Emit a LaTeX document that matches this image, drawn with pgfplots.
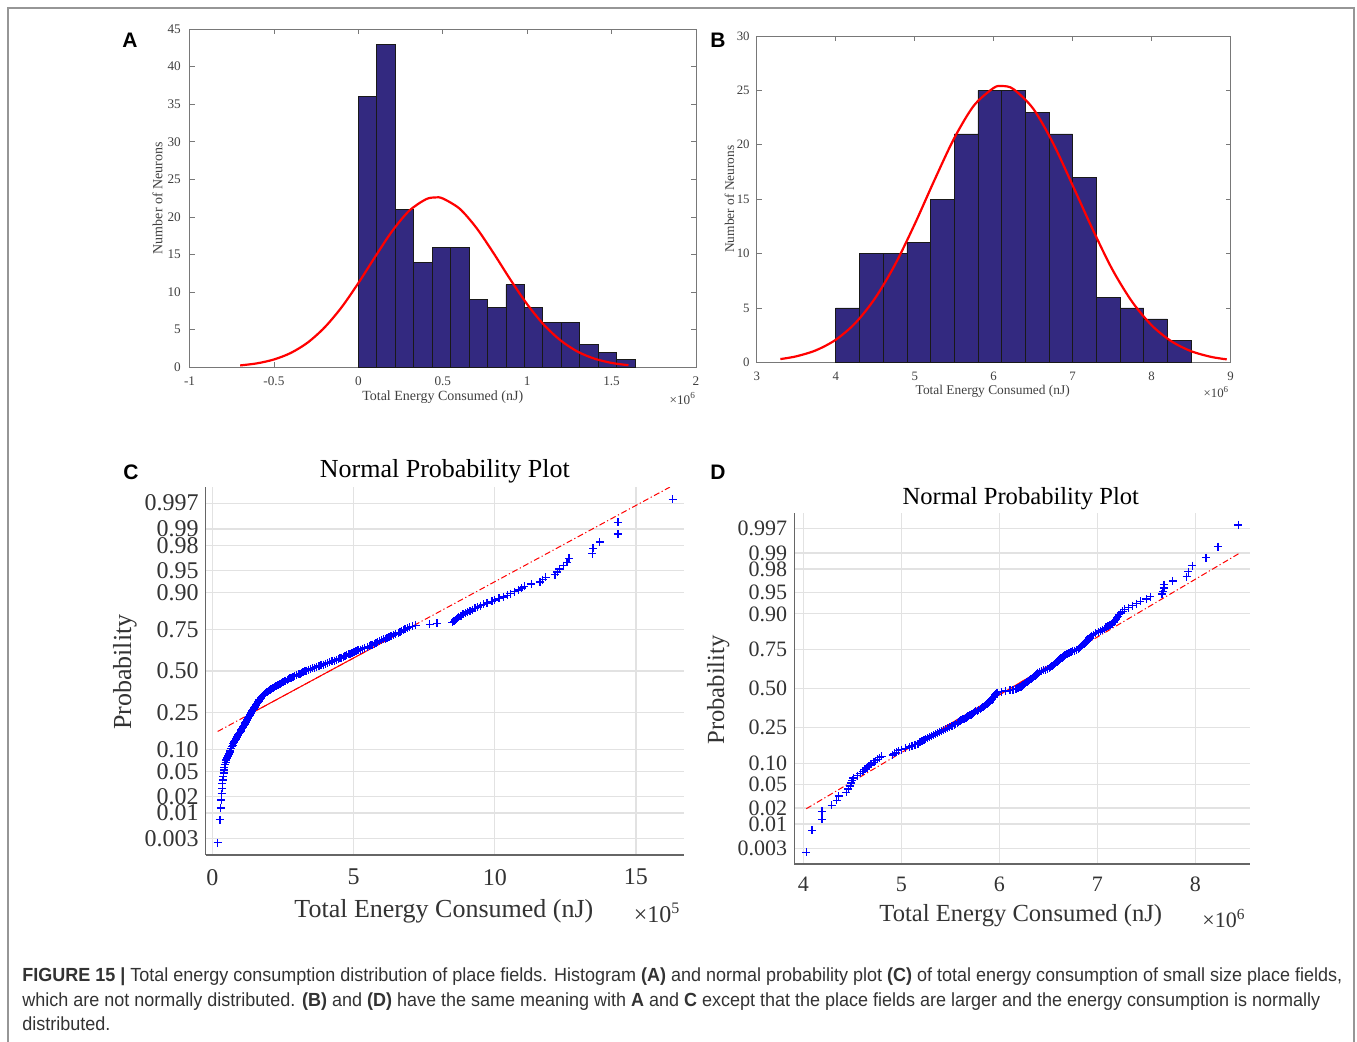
\documentclass[border=0pt]{standalone}
\usepackage{pgfplots}
\pgfplotsset{compat=1.18}
\usepackage{fontspec}
\setmainfont{Liberation Serif}
\newfontfamily\panelfont{Liberation Sans}
\newfontfamily\capfont[FakeStretch=0.947]{Liberation Sans}

\definecolor{histfill}{RGB}{51,41,128}
\definecolor{axgray}{RGB}{120,120,120}
\definecolor{gridgray}{RGB}{226,226,226}
\definecolor{framegray}{RGB}{150,150,150}

% probit: inverse standard normal CDF (Abramowitz & Stegun 26.2.23),
% used as the y scale of the normal probability plots
\pgfmathdeclarefunction{probit}{1}{%
  \begingroup
    \pgfmathparse{min(#1,1-#1)}\let\probQ\pgfmathresult
    \pgfmathparse{sqrt(-2*ln(\probQ))}\let\probT\pgfmathresult
    \pgfmathparse{\probT-(2.515517+0.802853*\probT+0.010328*\probT*\probT)/(1+1.432788*\probT+0.189269*\probT*\probT+0.001308*\probT*\probT*\probT)}\let\probZ\pgfmathresult
    \pgfmathparse{(#1<0.5)*(0-\probZ)+(#1>=0.5)*\probZ}%
    \pgfmathsmuggle\pgfmathresult
  \endgroup}

\pgfplotsset{
  histaxis/.style={
    scale only axis, anchor=south west, clip mode=individual,
    /pgf/number format/assume math mode=true,
    tick align=inside, major tick length=2.5pt,
    axis line style={axgray, line width=0.5pt},
    tick style={axgray, line width=0.4pt},
    tick label style={text=black!75},
    label style={text=black!75},
    xlabel={Total Energy Consumed (nJ)},
    ylabel={Number of Neurons},
  },
  probaxis/.style={
    scale only axis, anchor=south west, clip mode=individual,
    /pgf/number format/assume math mode=true,
    axis x line*=bottom, axis y line*=left,
    axis line style={black!60, line width=0.6pt},
    major tick length=0pt,
    grid=major, major grid style={gridgray, line width=0.6pt},
    ymin=0.0013, ymax=0.9987,
    y coord trafo/.code={\pgfmathparse{probit(##1)}},
    ytick={0.003,0.01,0.02,0.05,0.10,0.25,0.50,0.75,0.90,0.95,0.98,0.99,0.997},
    yticklabels={0.003,0.01,0.02,0.05,0.10,0.25,0.50,0.75,0.90,0.95,0.98,0.99,0.997},
    tick label style={text=black!80},
    label style={text=black!80},
    title={Normal Probability Plot},
    xlabel={Total Energy Consumed (nJ)},
    ylabel={Probability},
  },
  refdash/.style={red, line width=0.5pt, dash pattern=on 3pt off 1.3pt on 0.6pt off 1.3pt},
  refsolid/.style={red, line width=0.5pt},
  probmarks/.style={only marks, mark=+, mark size=2pt, blue, mark options={line width=0.65pt}},
}

\begin{document}
\begin{tikzpicture}
\useasboundingbox (0,0) rectangle (678.5pt,-520.5pt);
\fill[white] (0,0) rectangle (678.5pt,-520.5pt);
\draw[framegray, line width=0.6pt] (4pt,-521pt) -- (4pt,-4pt) -- (677pt,-4pt) -- (677pt,-521pt);

% ---------------- A: histogram, small place fields ----------------
\begin{axis}[histaxis,
  at={(94.75pt,-183.65pt)}, width=253.25pt, height=169.15pt,
  xmin=-1, xmax=2, ymin=0, ymax=45,
  xtick={-1,-0.5,0,0.5,1,1.5,2}, ytick={0,5,...,45},
  tick label style={font=\fontsize{6.6}{7}\selectfont},
  label style={font=\fontsize{7}{8}\selectfont},
  xticklabel style={yshift=-1.2pt}, yticklabel style={xshift=-0.8pt},
  xlabel style={at={(axis description cs:0.5,-0.0888)}, anchor=center},
  ylabel style={at={(axis description cs:-0.063,0.5)}, anchor=center},
]
\addplot[ybar interval, fill=histfill, draw=black!90, line width=0.3pt] coordinates {
  (0,36) (0.1092,43) (0.2184,21) (0.3276,14) (0.4368,16) (0.5460,16) (0.6552,9) (0.7644,8)
  (0.8736,11) (0.9828,8) (1.0920,6) (1.2012,6) (1.3104,3) (1.4196,2) (1.5288,1) (1.6380,0)};
\addplot[red, line width=1.1pt, smooth] coordinates {
  (-0.7,0.251) (-0.6,0.529) (-0.5,1.041) (-0.4,1.913) (-0.3,3.29) (-0.2,5.30) (-0.1,7.96)
  (0,11.20) (0.1,14.72) (0.2,18.10) (0.3,20.80) (0.4,22.35) (0.457,22.6) (0.5,22.46)
  (0.6,21.10) (0.7,18.53) (0.8,15.22) (0.9,11.69) (1.0,8.39) (1.1,5.63) (1.2,3.54)
  (1.3,2.07) (1.4,1.14) (1.5,0.584) (1.6,0.280)};
\node[font=\fontsize{6.6}{7}\selectfont, text=black!75, anchor=center] at (axis description cs:0.974,-0.0917) {×10\textsuperscript{6}};
\end{axis}

% ---------------- B: histogram, large place fields ----------------
\begin{axis}[histaxis,
  at={(378.35pt,-181.15pt)}, width=237pt, height=163.15pt,
  xmin=3, xmax=9, ymin=0, ymax=30,
  xtick={3,4,...,9}, ytick={0,5,...,30},
  tick label style={font=\fontsize{6.4}{7}\selectfont},
  label style={font=\fontsize{6.7}{7.5}\selectfont},
  xticklabel style={yshift=-1.4pt},
  xlabel style={at={(axis description cs:0.498,-0.0889)}, anchor=center},
  ylabel style={at={(axis description cs:-0.0575,0.5)}, anchor=center},
]
\addplot[ybar interval, fill=histfill, draw=black!90, line width=0.3pt] coordinates {
  (4.0,5) (4.3,10) (4.6,10) (4.9,11) (5.2,15) (5.5,21) (5.8,25) (6.1,25)
  (6.4,23) (6.7,21) (7.0,17) (7.3,6) (7.6,5) (7.9,4) (8.2,2) (8.5,0)};
\addplot[red, line width=1.1pt, smooth] coordinates {
  (3.3,0.298) (3.5,0.548) (3.75,1.105) (4.0,2.07) (4.25,3.62) (4.5,5.91) (4.75,8.97)
  (5.0,12.70) (5.25,16.75) (5.5,20.60) (5.75,23.61) (6.0,25.23) (6.11,25.4) (6.25,25.12)
  (6.5,23.32) (6.75,20.17) (7.0,16.26) (7.25,12.27) (7.5,8.56) (7.75,5.59) (8.0,3.40)
  (8.25,1.93) (8.5,1.02) (8.75,0.502) (8.95,0.271)};
\node[font=\fontsize{6.4}{7}\selectfont, text=black!75, anchor=center] at (axis description cs:0.970,-0.092) {×10\textsuperscript{6}};
\end{axis}

% ---------------- C: normal probability plot, small place fields ----------------
\begin{axis}[probaxis,
  at={(102.85pt,-427.5pt)}, width=239.15pt, height=184pt,
  xmin=-0.234, xmax=16.7, xtick={0,5,10,15},
  tick label style={font=\fontsize{12}{13}\selectfont},
  label style={font=\fontsize{13}{14}\selectfont},
  title style={font=\fontsize{13}{14}\selectfont, at={(axis description cs:0.5,1.052)}, anchor=center, yshift=-7.5pt},
  xticklabel style={yshift=-3.5pt},
  xlabel style={at={(axis description cs:0.498,-0.152)}, anchor=center},
  ylabel style={at={(axis description cs:-0.169,0.497)}, anchor=center},
]
\addplot[refdash] coordinates {(0.19,0.1613) (16.2,0.99869)};
\addplot[refsolid] coordinates {(1.45,0.25) (6.85,0.75)};
\addplot[probmarks] coordinates {
(0.19,0.0025) (0.27,0.0075) (0.30,0.0125) (0.32,0.0175) (0.33,0.0225)
(0.35,0.0275) (0.36,0.0325) (0.37,0.0375) (0.39,0.0425) (0.40,0.0475)
(0.42,0.0525) (0.43,0.0575) (0.45,0.0625) (0.47,0.0675) (0.49,0.0725)
(0.52,0.0775) (0.55,0.0825) (0.58,0.0875) (0.61,0.0925) (0.64,0.0975)
(0.66,0.1025) (0.69,0.1075) (0.72,0.1125) (0.75,0.1175) (0.78,0.1225)
(0.80,0.1275) (0.83,0.1325) (0.86,0.1375) (0.89,0.1425) (0.92,0.1475)
(0.95,0.1525) (0.98,0.1575) (1.00,0.1625) (1.03,0.1675) (1.06,0.1725)
(1.08,0.1775) (1.10,0.1825) (1.12,0.1875) (1.14,0.1925) (1.17,0.1975)
(1.19,0.2025) (1.22,0.2075) (1.24,0.2125) (1.26,0.2175) (1.28,0.2225)
(1.30,0.2275) (1.32,0.2325) (1.34,0.2375) (1.36,0.2425) (1.38,0.2475)
(1.40,0.2525) (1.42,0.2575) (1.44,0.2625) (1.46,0.2675) (1.48,0.2725)
(1.50,0.2775) (1.52,0.2825) (1.54,0.2875) (1.56,0.2925) (1.58,0.2975)
(1.60,0.3025) (1.62,0.3075) (1.64,0.3125) (1.66,0.3175) (1.68,0.3225)
(1.71,0.3275) (1.74,0.3325) (1.77,0.3375) (1.80,0.3425) (1.83,0.3475)
(1.86,0.3525) (1.89,0.3575) (1.92,0.3625) (1.96,0.3675) (2.00,0.3725)
(2.04,0.3775) (2.08,0.3825) (2.12,0.3875) (2.17,0.3925) (2.20,0.3975)
(2.25,0.4025) (2.30,0.4075) (2.35,0.4125) (2.40,0.4175) (2.45,0.4225)
(2.50,0.4275) (2.55,0.4325) (2.60,0.4375) (2.65,0.4425) (2.70,0.4475)
(2.75,0.4525) (2.80,0.4575) (2.86,0.4625) (2.92,0.4675) (2.98,0.4725)
(3.04,0.4775) (3.10,0.4825) (3.16,0.4875) (3.21,0.4925) (3.26,0.4975)
(3.32,0.5025) (3.40,0.5075) (3.48,0.5125) (3.55,0.5175) (3.62,0.5225)
(3.70,0.5275) (3.78,0.5325) (3.85,0.5375) (3.93,0.5425) (4.00,0.5475)
(4.08,0.5525) (4.16,0.5575) (4.24,0.5625) (4.32,0.5675) (4.40,0.5725)
(4.46,0.5775) (4.52,0.5825) (4.58,0.5875) (4.64,0.5925) (4.70,0.5975)
(4.76,0.6025) (4.82,0.6075) (4.88,0.6125) (4.95,0.6175) (5.02,0.6225)
(5.09,0.6275) (5.16,0.6325) (5.24,0.6375) (5.32,0.6425) (5.40,0.6475)
(5.50,0.6525) (5.56,0.6575) (5.62,0.6625) (5.68,0.6675) (5.74,0.6725)
(5.80,0.6775) (5.86,0.6825) (5.92,0.6875) (5.98,0.6925) (6.05,0.6975)
(6.12,0.7025) (6.19,0.7075) (6.26,0.7125) (6.33,0.7175) (6.41,0.7225)
(6.49,0.7275) (6.58,0.7325) (6.64,0.7375) (6.70,0.7425) (6.76,0.7475)
(6.82,0.7525) (6.90,0.7575) (6.98,0.7625) (7.08,0.7675) (7.20,0.7725)
(7.70,0.7775) (7.96,0.7825) (8.50,0.7875) (8.56,0.7925) (8.60,0.7975)
(8.64,0.8025) (8.68,0.8075) (8.72,0.8125) (8.80,0.8175) (8.88,0.8225)
(8.96,0.8275) (9.04,0.8325) (9.12,0.8375) (9.20,0.8425) (9.30,0.8475)
(9.40,0.8525) (9.50,0.8575) (9.60,0.8625) (9.72,0.8675) (9.90,0.8725)
(10.00,0.8775) (10.15,0.8825) (10.30,0.8875) (10.45,0.8925) (10.55,0.8975)
(10.70,0.9025) (10.85,0.9075) (10.95,0.9125) (11.05,0.9175) (11.30,0.9225)
(11.60,0.9275) (11.70,0.9325) (11.80,0.9375) (12.13,0.9425) (12.22,0.9475)
(12.29,0.9525) (12.43,0.9575) (12.56,0.9625) (12.63,0.9675) (13.46,0.9725)
(13.48,0.9775) (13.72,0.9825) (14.36,0.9875) (14.36,0.9925) (16.30,0.9975)};
\node[font=\fontsize{12}{13}\selectfont, text=black!80, anchor=center] at (axis description cs:0.944,-0.158) {×10\textsuperscript{5}};
\end{axis}

% ---------------- D: normal probability plot, large place fields ----------------
\begin{axis}[probaxis,
  at={(397.15pt,-432pt)}, width=227.85pt, height=175.5pt,
  xmin=3.908, xmax=8.558, xtick={4,5,6,7,8},
  tick label style={font=\fontsize{11}{12}\selectfont},
  label style={font=\fontsize{12.3}{13}\selectfont},
  title style={font=\fontsize{12.3}{13}\selectfont, at={(axis description cs:0.497,1.048)}, anchor=center, yshift=-7pt},
  xticklabel style={yshift=-3.1pt},
  xlabel style={at={(axis description cs:0.497,-0.147)}, anchor=center},
  ylabel style={at={(axis description cs:-0.167,0.496)}, anchor=center},
]
\addplot[refdash] coordinates {(4.03,0.0196) (8.44,0.98956)};
\addplot[refsolid] coordinates {(5.43,0.25) (6.79,0.75)};
\addplot[probmarks] coordinates {
(4.03,0.0025) (4.09,0.0075) (4.19,0.0125) (4.19,0.0175) (4.29,0.0225)
(4.34,0.0275) (4.36,0.0325) (4.44,0.0375) (4.46,0.0425) (4.48,0.0475)
(4.49,0.0525) (4.50,0.0575) (4.51,0.0625) (4.55,0.0675) (4.58,0.0725)
(4.61,0.0775) (4.63,0.0825) (4.65,0.0875) (4.67,0.0925) (4.69,0.0975)
(4.72,0.1025) (4.74,0.1075) (4.76,0.1125) (4.78,0.1175) (4.80,0.1225)
(4.91,0.1275) (4.93,0.1325) (4.95,0.1375) (4.97,0.1425) (5.00,0.1475)
(5.04,0.1525) (5.08,0.1575) (5.11,0.1625) (5.14,0.1675) (5.17,0.1725)
(5.19,0.1775) (5.21,0.1825) (5.23,0.1875) (5.25,0.1925) (5.27,0.1975)
(5.29,0.2025) (5.31,0.2075) (5.33,0.2125) (5.35,0.2175) (5.37,0.2225)
(5.39,0.2275) (5.41,0.2325) (5.43,0.2375) (5.45,0.2425) (5.47,0.2475)
(5.49,0.2525) (5.51,0.2575) (5.52,0.2625) (5.54,0.2675) (5.55,0.2725)
(5.57,0.2775) (5.58,0.2825) (5.60,0.2875) (5.61,0.2925) (5.63,0.2975)
(5.64,0.3025) (5.66,0.3075) (5.67,0.3125) (5.68,0.3175) (5.70,0.3225)
(5.71,0.3275) (5.72,0.3325) (5.74,0.3375) (5.75,0.3425) (5.76,0.3475)
(5.78,0.3525) (5.79,0.3575) (5.81,0.3625) (5.82,0.3675) (5.83,0.3725)
(5.84,0.3775) (5.85,0.3825) (5.86,0.3875) (5.87,0.3925) (5.88,0.3975)
(5.89,0.4025) (5.90,0.4075) (5.905,0.4125) (5.91,0.4175) (5.92,0.4225)
(5.925,0.4275) (5.93,0.4325) (5.94,0.4375) (5.945,0.4425) (5.95,0.4475)
(5.955,0.4525) (5.96,0.4575) (5.965,0.4625) (5.97,0.4675) (5.98,0.4725)
(6.02,0.4775) (6.06,0.4825) (6.11,0.4875) (6.14,0.4925) (6.17,0.4975)
(6.19,0.5025) (6.21,0.5075) (6.22,0.5125) (6.23,0.5175) (6.24,0.5225)
(6.25,0.5275) (6.26,0.5325) (6.27,0.5375) (6.28,0.5425) (6.29,0.5475)
(6.30,0.5525) (6.31,0.5575) (6.32,0.5625) (6.33,0.5675) (6.34,0.5725)
(6.35,0.5775) (6.36,0.5825) (6.37,0.5875) (6.37,0.5925) (6.38,0.5975)
(6.39,0.6025) (6.39,0.6075) (6.41,0.6125) (6.43,0.6175) (6.45,0.6225)
(6.47,0.6275) (6.49,0.6325) (6.51,0.6375) (6.52,0.6425) (6.53,0.6475)
(6.54,0.6525) (6.55,0.6575) (6.56,0.6625) (6.57,0.6675) (6.58,0.6725)
(6.59,0.6775) (6.60,0.6825) (6.61,0.6875) (6.62,0.6925) (6.63,0.6975)
(6.64,0.7025) (6.65,0.7075) (6.66,0.7125) (6.67,0.7175) (6.69,0.7225)
(6.71,0.7275) (6.73,0.7325) (6.75,0.7375) (6.77,0.7425) (6.79,0.7475)
(6.81,0.7525) (6.82,0.7575) (6.83,0.7625) (6.84,0.7675) (6.85,0.7725)
(6.86,0.7775) (6.87,0.7825) (6.88,0.7875) (6.89,0.7925) (6.90,0.7975)
(6.91,0.8025) (6.92,0.8075) (6.93,0.8125) (6.94,0.8175) (6.96,0.8225)
(6.98,0.8275) (7.01,0.8325) (7.03,0.8375) (7.05,0.8425) (7.07,0.8475)
(7.09,0.8525) (7.11,0.8575) (7.13,0.8625) (7.15,0.8675) (7.17,0.8725)
(7.18,0.8775) (7.19,0.8825) (7.20,0.8875) (7.21,0.8925) (7.22,0.8975)
(7.24,0.9025) (7.26,0.9075) (7.28,0.9125) (7.32,0.9175) (7.36,0.9225)
(7.40,0.9275) (7.44,0.9325) (7.50,0.9375) (7.54,0.9425) (7.66,0.9475)
(7.67,0.9525) (7.68,0.9575) (7.68,0.9625) (7.77,0.9675) (7.91,0.9725)
(7.93,0.9775) (7.97,0.9825) (8.11,0.9875) (8.23,0.9925) (8.44,0.9975)};
\node[font=\fontsize{11}{12}\selectfont, text=black!80, anchor=center] at (axis description cs:0.943,-0.154) {×10\textsuperscript{6}};
\end{axis}

% panel letters
\begin{scope}[every node/.style={font=\panelfont\bfseries\fontsize{10.5}{12}\selectfont, inner sep=0pt, anchor=center}]
\node at (65pt,-20pt) {A};
\node at (359pt,-20pt) {B};
\node at (65.5pt,-236pt) {C};
\node at (359pt,-236pt) {D};
\end{scope}

% caption
\begin{scope}[every node/.style={font=\capfont\fontsize{9.5}{11}\selectfont, text=black!80, inner sep=0pt, anchor=base west}]
\node at (11pt,-490.5pt) {\textbf{FIGURE 15 |} Total energy consumption distribution of place fields. Histogram \textbf{(A)} and normal probability plot \textbf{(C)} of total energy consumption of small size place fields,};
\node at (11pt,-503pt) {which are not normally distributed. \textbf{(B)} and \textbf{(D)} have the same meaning with \textbf{A} and \textbf{C} except that the place fields are larger and the energy consumption is normally};
\node at (11pt,-515pt) {distributed.};
\end{scope}
\end{tikzpicture}
\end{document}
